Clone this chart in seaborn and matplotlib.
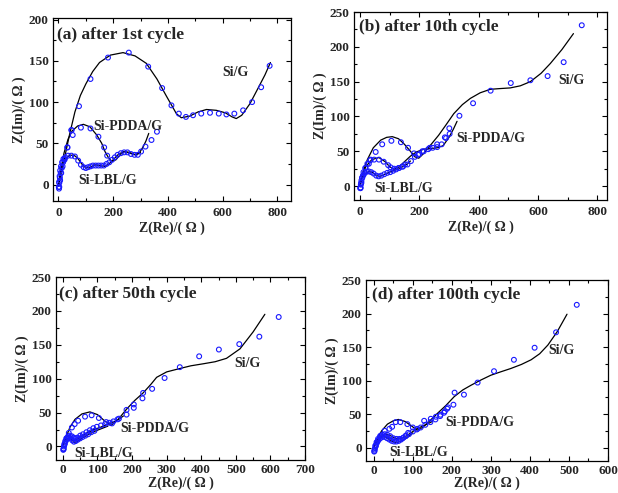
import matplotlib
matplotlib.use("Agg")
import matplotlib.pyplot as plt
import seaborn as sns
from matplotlib.ticker import AutoMinorLocator, MultipleLocator

# ---------------- data ----------------
# Panel (a) after 1st cycle
a_sig_px = [3, 6, 10, 15, 22, 32, 48, 75, 117, 181, 257, 328, 379, 413, 440, 466, 492, 522, 554, 586, 614, 643, 675, 708, 741, 772]
a_sig_py = [-3, 5, 14, 22, 30, 45, 66, 95, 128, 154, 160, 143, 117, 96, 86, 82, 84, 86, 87, 86, 85, 86, 90, 100, 118, 144]
a_sig_lx = [0, 10, 20, 40, 60, 80, 100, 125, 150, 190, 236, 280, 321, 360, 395, 431, 449, 480, 510, 541, 577, 610, 635, 650, 670, 700, 730, 755, 775]
a_sig_ly = [-2, 14, 29, 60, 88, 108, 122, 137, 148, 157, 160, 156, 147, 128, 107, 86, 81, 83, 88, 91, 90, 87, 82, 80, 84, 98, 117, 133, 148]
a_pdda_px = [2, 3, 5, 8, 12, 17, 22, 33, 47, 52, 82, 117, 146, 167, 178, 318, 340, 360]
a_pdda_py = [-5, 2, 8, 14, 20, 27, 31, 45, 66, 60, 69, 68, 58, 45, 35, 46, 54, 64]
a_pdda_lx = [0, 10, 20, 35, 50, 70, 91, 115, 140, 158, 170, 182, 195, 210, 225, 240, 260, 280, 295, 310, 320, 330]
a_pdda_ly = [0, 20, 38, 55, 65, 71, 73, 70, 60, 50, 40, 33, 28, 30, 36, 40, 39, 36, 38, 46, 53, 62]
a_lbl_px = [1, 2, 4, 6, 9, 13, 18, 25, 35, 47, 60, 72, 82, 92, 100, 108, 117, 126, 136, 146, 156, 166, 176, 186, 196, 206, 216, 228, 240, 252, 265, 278, 290, 302]
a_lbl_py = [-3, 3, 10, 17, 22, 27, 31, 33, 35, 35, 34, 29, 24, 21, 20, 21, 22, 23, 23, 23, 23, 23, 25, 27, 30, 33, 36, 38, 39, 39, 37, 36, 36, 40]
a_lbl_lx = [0, 8, 15, 25, 40, 55, 70, 85, 100, 115, 134, 150, 170, 185, 200, 220, 240, 260, 285, 300]
a_lbl_ly = [0, 15, 25, 32, 35, 36, 32, 25, 20, 21, 24, 23, 22, 25, 30, 37, 40, 38, 36, 39]

# Panel (b) after 10th cycle
b_sig_px = [2, 5, 10, 19, 30, 36, 53, 75, 106, 138, 162, 182, 196, 210, 235, 260, 286, 301, 335, 381, 440, 508, 574, 632, 686, 747]
b_sig_py = [-3, 5, 15, 26, 32, 38, 49, 60, 65, 63, 55, 47, 45, 50, 55, 60, 70, 83, 101, 119, 137, 148, 152, 158, 178, 231]
b_sig_lx = [0, 10, 25, 45, 70, 90, 109, 130, 150, 170, 185, 198, 215, 240, 265, 290, 316, 345, 372, 405, 439, 470, 506, 540, 574, 610, 641, 680, 719]
b_sig_ly = [0, 20, 38, 55, 66, 70, 71, 68, 60, 50, 42, 40, 47, 60, 73, 88, 104, 117, 126, 134, 139, 140, 141, 144, 150, 162, 176, 196, 219]
b_pdda_px = [2, 4, 7, 12, 18, 25, 35, 48, 64, 80, 95, 103, 115, 130, 145, 160, 172, 185, 200, 215, 230, 245, 260, 275, 290, 302]
b_pdda_py = [-2, 4, 12, 20, 26, 32, 37, 38, 38, 35, 30, 27, 25, 26, 28, 31, 36, 42, 46, 50, 53, 55, 56, 60, 69, 75]
b_pdda_lx = [0, 8, 20, 40, 64, 85, 100, 114, 130, 150, 170, 190, 215, 240, 260, 280, 300, 315, 327]
b_pdda_ly = [0, 15, 28, 38, 41, 35, 28, 24, 27, 35, 43, 49, 53, 54, 55, 58, 70, 82, 93]
b_lbl_px = [1, 3, 5, 8, 12, 17, 23, 30, 38, 46, 55, 63, 72, 82, 92, 102, 112, 122, 132, 142, 152]
b_lbl_py = [-3, 2, 8, 12, 16, 19, 21, 21, 20, 18, 15, 14, 15, 17, 19, 20, 22, 24, 26, 28, 31]
b_lbl_lx = [0, 6, 15, 30, 45, 55, 67, 85, 105, 125, 145, 160, 170]
b_lbl_ly = [0, 10, 17, 21, 19, 15, 14, 17, 21, 24, 28, 32, 36]

# Panel (c) after 50th cycle
c_sig_px = [2, 5, 10, 17, 26, 34, 44, 64, 83, 104, 125, 142, 162, 184, 184, 205, 205, 230, 232, 258, 294, 338, 394, 451, 510, 568, 624]
c_sig_py = [-3, 4, 12, 20, 28, 33, 38, 44, 46, 42, 36, 34, 41, 47, 54, 57, 62, 71, 79, 85, 101, 117, 133, 143, 151, 162, 191]
c_sig_lx = [0, 8, 20, 35, 55, 78, 100, 120, 139, 160, 184, 208, 232, 255, 271, 300, 338, 370, 406, 440, 473, 512, 550, 584]
c_sig_ly = [0, 12, 28, 40, 48, 51, 47, 38, 31, 40, 55, 68, 79, 92, 102, 110, 115, 119, 122, 125, 130, 144, 169, 195]
c_pdda_px = [2, 4, 7, 11, 15, 20, 26, 31, 36, 42, 50, 58, 68, 78, 88, 98, 110, 122, 134, 146, 158]
c_pdda_py = [-4, 2, 8, 12, 15, 16, 15, 13, 12, 13, 16, 18, 21, 24, 27, 29, 31, 33, 35, 37, 40]
c_pdda_lx = [0, 5, 10, 15, 22, 30, 38, 50, 70, 90, 107, 130, 150, 164, 175]
c_pdda_ly = [0, 8, 13, 16, 15, 10, 10, 14, 20, 25, 28, 33, 37, 41, 45]
c_lbl_px = [1, 3, 5, 8, 12, 17, 22, 27, 32, 37, 43, 50, 57, 65, 73, 82, 91]
c_lbl_py = [-5, 0, 4, 8, 11, 13, 12, 9, 7, 8, 10, 12, 14, 16, 18, 21, 23]
c_lbl_lx = [0, 4, 10, 18, 25, 33, 40, 55, 75, 95, 115, 130]
c_lbl_ly = [0, 6, 11, 13, 10, 6, 7, 12, 18, 23, 27, 30]

# Panel (d) after 100th cycle
d_sig_px = [2, 5, 10, 18, 28, 40, 47, 56, 68, 86, 100, 112, 129, 146, 159, 171, 182, 190, 204, 207, 231, 266, 308, 359, 412, 467, 520]
d_sig_py = [-5, 2, 10, 18, 25, 28, 31, 38, 38, 35, 30, 28, 40, 43, 46, 49, 54, 60, 64, 82, 79, 97, 114, 131, 149, 172, 213]
d_sig_lx = [0, 8, 20, 35, 50, 63, 80, 95, 111, 125, 140, 163, 185, 206, 228, 249, 275, 300, 325, 351, 378, 403, 425, 446, 470, 495]
d_sig_ly = [0, 12, 25, 35, 40, 42, 39, 33, 26, 30, 38, 51, 63, 76, 86, 93, 101, 108, 113, 118, 124, 131, 140, 153, 173, 199]
d_pdda_px = [2, 4, 7, 11, 16, 22, 28, 35, 42, 50, 58, 66, 74, 82, 90, 100, 110, 120, 132, 145, 158, 170, 180, 188]
d_pdda_py = [-3, 3, 8, 13, 17, 19, 20, 19, 17, 14, 13, 13, 14, 17, 20, 24, 27, 30, 34, 38, 42, 47, 52, 58]
d_pdda_lx = [0, 5, 12, 22, 32, 42, 55, 68, 80, 95, 110, 125, 140, 150]
d_pdda_ly = [0, 8, 14, 18, 20, 18, 14, 13, 16, 22, 28, 32, 36, 39]
d_lbl_px = [1, 3, 5, 8, 12, 17, 22, 28, 34, 40, 46, 52, 58, 64, 70, 76, 82, 88]
d_lbl_py = [-6, -1, 3, 7, 11, 14, 16, 16, 14, 12, 10, 9, 9, 10, 12, 15, 18, 22]
d_lbl_lx = [0, 5, 12, 22, 30, 40, 52, 62, 75, 88, 100]
d_lbl_ly = [0, 7, 12, 16, 16, 12, 8, 8, 11, 16, 22]

titles = ["(a) after 1st cycle", "(b) after 10th cycle", "(c) after 50th cycle", "(d) after 100th cycle"]
series_names = ["Si/G", "Si-PDDA/G", "Si-LBL/G"]

# ---------------- style ----------------
sns.set_style("ticks")
plt.rcParams["font.family"] = ["Liberation Serif", "DejaVu Sans"]
plt.rcParams["font.weight"] = "bold"
plt.rcParams["axes.labelweight"] = "bold"

fig = plt.figure(figsize=(6.18, 4.93), dpi=100)

panels = [
    dict(rect=[0.0858, 0.5923, 0.385, 0.3712], xlim=(-20, 850), ylim=(-20, 202), xstep=200, ystep=50,
         pts=[(a_sig_px, a_sig_py), (a_pdda_px, a_pdda_py), (a_lbl_px, a_lbl_py)],
         lines=[(a_sig_lx, a_sig_ly), (a_pdda_lx, a_pdda_ly), (a_lbl_lx, a_lbl_ly)],
         labels=[(599, 136), (127, 70), (74, 5)], title_pos=(0.017, 0.907), xpad=4, xlabpad=2),
    dict(rect=[0.5728, 0.5943, 0.4094, 0.3813], xlim=(-20, 832), ylim=(-20, 250), xstep=200, ystep=50,
         pts=[(b_sig_px, b_sig_py), (b_pdda_px, b_pdda_py), (b_lbl_px, b_lbl_py)],
         lines=[(b_sig_lx, b_sig_ly), (b_pdda_lx, b_pdda_ly), (b_lbl_lx, b_lbl_ly)],
         labels=[(669, 152), (324, 69), (47, -4)], title_pos=(0.021, 0.92), xpad=4, xlabpad=2),
    dict(rect=[0.0906, 0.0669, 0.4029, 0.3712], xlim=(-20, 700), ylim=(-20, 250), xstep=100, ystep=50,
         pts=[(c_sig_px, c_sig_py), (c_pdda_px, c_pdda_py), (c_lbl_px, c_lbl_py)],
         lines=[(c_sig_lx, c_sig_ly), (c_pdda_lx, c_pdda_ly), (c_lbl_lx, c_lbl_ly)],
         labels=[(496, 122), (167, 26), (32, -11)], title_pos=(0.013, 0.905), xpad=3, xlabpad=0),
    dict(rect=[0.5922, 0.0649, 0.3916, 0.3671], xlim=(-20, 600), ylim=(-20, 250), xstep=100, ystep=50,
         pts=[(d_sig_px, d_sig_py), (d_pdda_px, d_pdda_py), (d_lbl_px, d_lbl_py)],
         lines=[(d_sig_lx, d_sig_ly), (d_pdda_lx, d_pdda_ly), (d_lbl_lx, d_lbl_ly)],
         labels=[(446, 145), (183, 38), (40, -7.5)], title_pos=(0.024, 0.92), xpad=3, xlabpad=-0.5),
]

for p, title in zip(panels, titles):
    ax = fig.add_axes(p["rect"])
    for (lx, ly) in p["lines"]:
        sns.lineplot(x=lx, y=ly, ax=ax, sort=False, estimator=None, color="black", linewidth=0.9)
    for (px, py) in p["pts"]:
        sns.scatterplot(x=px, y=py, ax=ax, marker="o", s=12, facecolors="none",
                        edgecolor="#1a1aff", linewidth=0.8, zorder=3)
    ax.set_xlim(*p["xlim"])
    ax.set_ylim(*p["ylim"])
    ax.xaxis.set_major_locator(MultipleLocator(p["xstep"]))
    ax.yaxis.set_major_locator(MultipleLocator(p["ystep"]))
    ax.xaxis.set_minor_locator(AutoMinorLocator(2))
    ax.yaxis.set_minor_locator(AutoMinorLocator(2))
    ax.tick_params(which="both", direction="in", top=True, right=True, width=0.8, color="black")
    ax.tick_params(which="major", length=3.5, labelsize=9.5)
    ax.tick_params(axis="x", which="major", pad=p["xpad"])
    ax.tick_params(axis="y", which="major", pad=3)
    ax.tick_params(which="minor", length=2)
    for lab in ax.get_xticklabels() + ax.get_yticklabels():
        lab.set_fontweight("bold")
    for s in ax.spines.values():
        s.set_linewidth(0.9)
        s.set_color("black")
    ax.set_xlabel("Z(Re)/( \u03a9 )", fontsize=10, fontweight="bold", labelpad=p["xlabpad"])
    ax.set_ylabel("Z(Im)/( \u03a9 )", fontsize=10, fontweight="bold", labelpad=2)
    ax.text(p["title_pos"][0], p["title_pos"][1], title, transform=ax.transAxes,
            fontsize=12.5, fontweight="bold", ha="left", va="center")
    for name, (tx, ty) in zip(series_names, p["labels"]):
        ax.text(tx, ty, name, fontsize=10, fontweight="bold", ha="left", va="center")

fig.savefig("out.png", dpi=100)
